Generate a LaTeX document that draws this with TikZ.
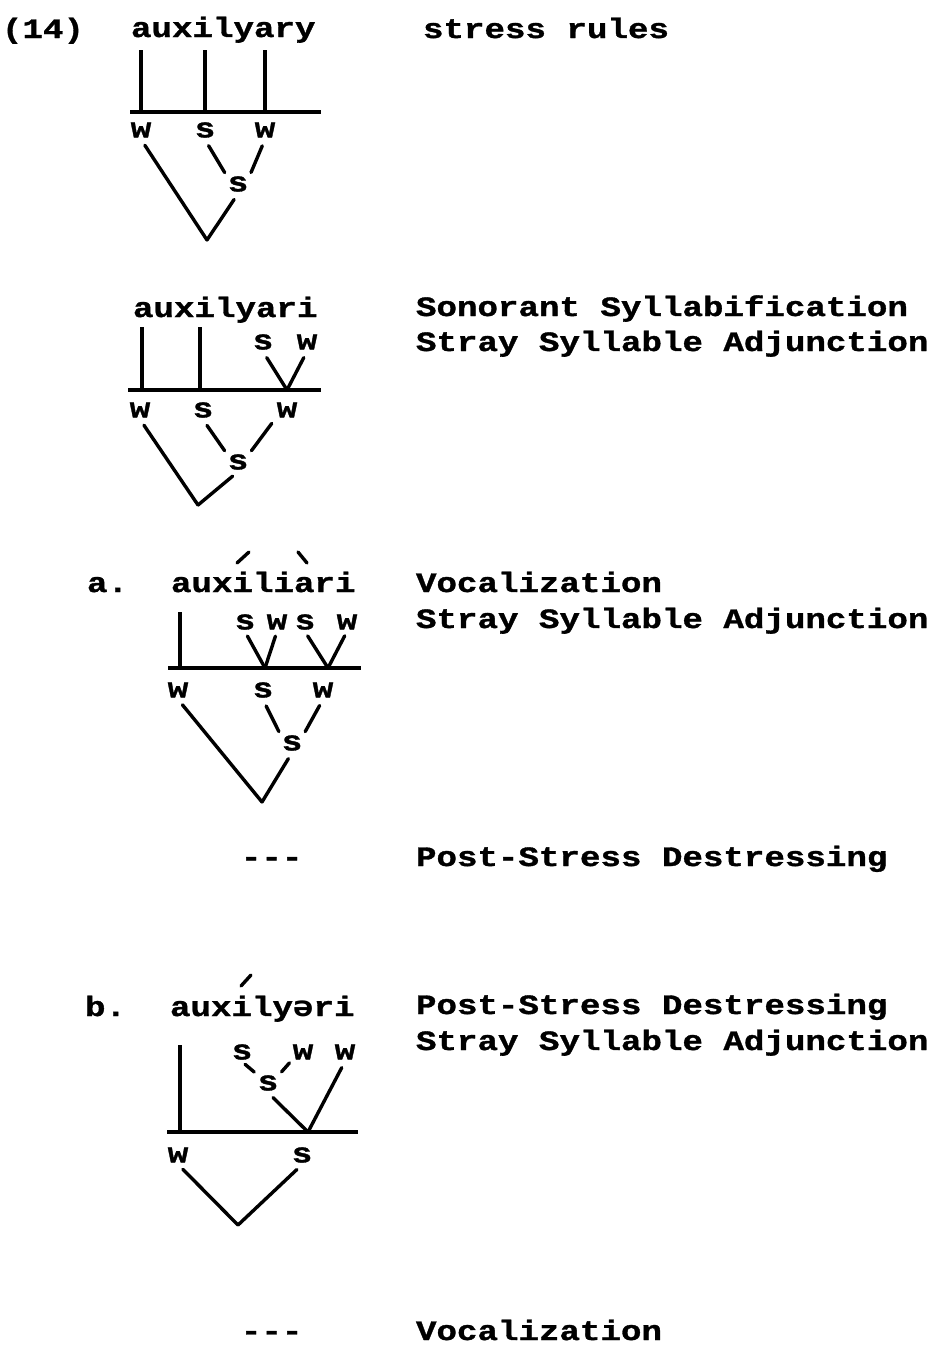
\documentclass[tikz,border=0pt]{standalone}
\usepackage{fontspec}
\setmonofont{Liberation Mono}[FakeStretch=1.22, BoldFeatures={FakeBold=1.2}]
\newfontfamily\schwafont{DejaVu Sans Mono}[FakeStretch=1.22]
\tikzset{
  tw/.style={font=\ttfamily\bfseries\fontsize{28}{34}\selectfont, inner sep=0pt, outer sep=0pt},
  word/.style={tw, anchor=base west},
  lab/.style={tw, inner sep=2pt, anchor=center},
  tl/.style={line width=3.8pt},
  lk/.style={line width=3.4pt, line cap=round, shorten <=7pt},
  acc/.style={line width=3.4pt, line cap=round},
}
\begin{document}
\begin{tikzpicture}[x=1pt,y=-1pt]
\useasboundingbox (0,0) rectangle (942,1355);

% ---------- (14) ----------
\node[word] (n14) at (2,38) {(14)};
\node[word] (w1) at (131,37) {auxilyary};
\node[word] (r1) at (423,38) {stress rules};
\coordinate (b1l) at (130,112); \coordinate (b1r) at (321,112);
\draw[tl] (b1l) -- (b1r);
\coordinate (t1a) at (141,50); \coordinate (t1b) at (205,50); \coordinate (t1c) at (265,50);
\draw[tl] (t1a) -- (t1a |- b1l);
\draw[tl] (t1b) -- (t1b |- b1l);
\draw[tl] (t1c) -- (t1c |- b1l);
\node[lab] (a1W) at (141,130) {w};
\node[lab] (a1S) at (205,130) {s};
\node[lab] (a1W2) at (265,130) {w};
\node[lab] (a1s) at (238,184) {s};
\coordinate (a1v) at (207,240);
\draw[lk] (a1W.south) -- (a1v);
\draw[lk, shorten >=2pt] (a1S.south) -- (a1s.north west);
\draw[lk, shorten >=2pt] (a1W2.south) -- (a1s.north east);
\draw[lk] (a1s.south) -- (a1v);

% ---------- second ----------
\node[word] (w2) at (133,317) {auxilyari};
\node[word] (r2a) at (416,316) {Sonorant Syllabification};
\node[word] (r2b) at (416,351) {Stray Syllable Adjunction};
\coordinate (b2l) at (128,390); \coordinate (b2r) at (321,390);
\draw[tl] (b2l) -- (b2r);
\coordinate (t2a) at (142,327); \coordinate (t2b) at (200,327);
\draw[tl] (t2a) -- (t2a |- b2l);
\draw[tl] (t2b) -- (t2b |- b2l);
\node[lab] (b2s) at (263,342) {s};
\node[lab] (b2w) at (307,342) {w};
\coordinate (b2j) at (287,390);
\draw[lk] (b2s.south) -- (b2j);
\draw[lk] (b2w.south) -- (b2j);
\node[lab] (b2W) at (140,410) {w};
\node[lab] (b2S) at (203,410) {s};
\node[lab] (b2W2) at (287,410) {w};
\node[lab] (b2x) at (238,462) {s};
\coordinate (b2v) at (198,505);
\draw[lk] (b2W.south) -- (b2v);
\draw[lk, shorten >=2pt] (b2S.south) -- (b2x.north west);
\draw[lk, shorten <=5pt, shorten >=2pt] (b2W2.south west) -- (b2x.north east);
\draw[lk] (b2x.south) -- (b2v);

% ---------- a. ----------
\node[word] (la) at (87,592) {a.};
\node[word] (w3) at (171,592) {auxiliari};
\node[word] (r3a) at (416,592) {Vocalization};
\node[word] (r3b) at (416,628) {Stray Syllable Adjunction};
\draw[acc] (237,563) -- (249,552);
\draw[acc] (298,552) -- (307,563);
\coordinate (b3l) at (168,668); \coordinate (b3r) at (361,668);
\draw[tl] (b3l) -- (b3r);
\coordinate (t3a) at (180,612);
\draw[tl] (t3a) -- (t3a |- b3l);
\node[lab] (c3s1) at (245,622) {s};
\node[lab] (c3w1) at (277,622) {w};
\node[lab] (c3s2) at (305,622) {s};
\node[lab] (c3w2) at (347,622) {w};
\coordinate (c3j1) at (265,668); \coordinate (c3j2) at (328,668);
\draw[lk, shorten <=5pt] (c3s1.south) -- (c3j1);
\draw[lk, shorten <=5pt] (c3w1.south) -- (c3j1);
\draw[lk, shorten <=5pt] (c3s2.south) -- (c3j2);
\draw[lk, shorten <=5pt] (c3w2.south) -- (c3j2);
\node[lab] (c3W) at (178,690) {w};
\node[lab] (c3S) at (263,690) {s};
\node[lab] (c3W2) at (323,690) {w};
\node[lab] (c3x) at (292,743) {s};
\coordinate (c3v) at (262,802);
\draw[lk] (c3W.south) -- (c3v);
\draw[lk, shorten >=2pt] (c3S.south) -- (c3x.north west);
\draw[lk, shorten >=2pt] (c3W2.south) -- (c3x.north east);
\draw[lk] (c3x.south) -- (c3v);

% ---------- dash row ----------
\node[word] (d1) at (241,866) {-\kern0pt-\kern0pt-};
\node[word] (r3c) at (416,866) {Post-Stress Destressing};

% ---------- b. ----------
\node[word] (lb) at (85,1016) {b.};
\node[word] (w4) at (170,1016) {auxily{\schwafont ə}ri};
\node[word] (r4a) at (416,1014) {Post-Stress Destressing};
\node[word] (r4b) at (416,1050) {Stray Syllable Adjunction};
\draw[acc] (241,986) -- (251,975);
\coordinate (b4l) at (167,1132); \coordinate (b4r) at (358,1132);
\draw[tl] (b4l) -- (b4r);
\coordinate (t4a) at (180,1045);
\draw[tl] (t4a) -- (t4a |- b4l);
\node[lab] (d4s) at (242,1052) {s};
\node[lab] (d4w) at (303,1052) {w};
\node[lab] (d4w2) at (345,1052) {w};
\node[lab] (d4x) at (268,1083) {s};
\coordinate (d4j) at (308,1132);
\draw[lk, shorten <=4pt, shorten >=2pt] (d4s.south) -- (d4x.north west);
\draw[lk, shorten <=2pt, shorten >=2pt] (d4w.south west) -- (d4x.north east);
\draw[lk] (d4x.south) -- (d4j);
\draw[lk] (d4w2.south) -- (d4j);
\node[lab] (d4W) at (178,1155) {w};
\node[lab] (d4S) at (302,1155) {s};
\coordinate (d4v) at (238,1225);
\draw[lk] (d4W.south) -- (d4v);
\draw[lk] (d4S.south) -- (d4v);

% ---------- final row ----------
\node[word] (d2) at (241,1340) {-\kern0pt-\kern0pt-};
\node[word] (r5) at (416,1340) {Vocalization};
\end{tikzpicture}
\end{document}
